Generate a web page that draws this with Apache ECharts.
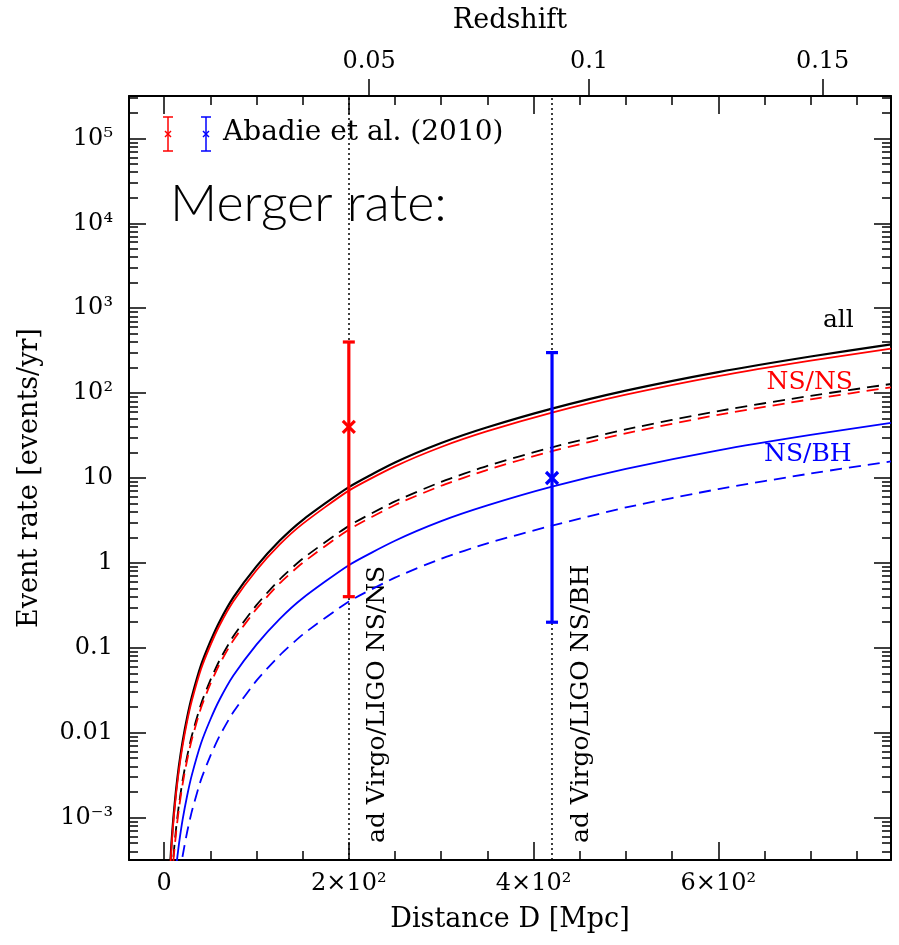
<!DOCTYPE html>
<html>
<head>
<meta charset="utf-8">
<script src="https://cdn.jsdelivr.net/npm/echarts@6/dist/echarts.min.js"></script>
<style>
  html, body { margin: 0; padding: 0; background: #fff; }
  #chart { width: 899px; height: 945px; }
</style>
</head>
<body>
<div id="chart"></div>
<script>
// Luminosity distance grid [Mpc]
const distance = [6, 8, 10, 13, 16, 20, 25, 30, 40, 50, 60, 75, 100, 125, 150, 200, 250, 300, 350, 420, 500, 600, 700, 787];

// Cumulative merger rates [events/yr] within distance D
const rateAll      = [2.1e-4, 5.0e-4, 9.75e-4, 2.14e-3, 4.0e-3, 7.8e-3, 0.0152, 0.0263, 0.0624, 0.118, 0.203, 0.392, 0.91, 1.82, 3.2, 7.8, 15.2, 25.8, 39.6, 65.7, 107, 177, 270, 375];
const rateNsNs     = [1.9e-4, 4.5e-4, 8.8e-4, 1.93e-3, 3.6e-3, 7.0e-3, 0.0137, 0.0237, 0.0562, 0.106, 0.183, 0.353, 0.82, 1.64, 2.88, 7.1, 13.7, 23.2, 35.6, 59, 96, 159, 242, 334];
const rateNsBh     = [2.5e-5, 6.0e-5, 1.17e-4, 2.57e-4, 4.8e-4, 9.4e-4, 1.82e-3, 3.16e-3, 7.5e-3, 0.0142, 0.0244, 0.047, 0.109, 0.218, 0.384, 0.94, 1.82, 3.1, 4.75, 7.9, 12.8, 21.2, 32.2, 44.5];
// Alternative model (dashed)
const rateAllAlt   = [7.4e-5, 1.75e-4, 3.4e-4, 7.5e-4, 1.4e-3, 2.73e-3, 5.3e-3, 9.2e-3, 0.0218, 0.0413, 0.071, 0.137, 0.318, 0.637, 1.12, 2.73, 5.3, 9.0, 13.9, 23.0, 37.4, 61.5, 93, 128];
const rateNsNsAlt  = [6.6e-5, 1.58e-4, 3.07e-4, 6.7e-4, 1.26e-3, 2.46e-3, 4.8e-3, 8.3e-3, 0.0197, 0.0372, 0.064, 0.123, 0.287, 0.573, 1.0, 2.46, 4.8, 8.1, 12.5, 20.7, 33.6, 55.5, 84.5, 117];
const rateNsBhAlt  = [9.5e-6, 2.25e-5, 4.4e-5, 9.6e-5, 1.8e-4, 3.5e-4, 6.8e-4, 1.18e-3, 2.8e-3, 5.3e-3, 9.1e-3, 0.0175, 0.041, 0.081, 0.143, 0.35, 0.67, 1.12, 1.7, 2.75, 4.5, 7.4, 11.3, 15.7];

// Abadie et al. (2010) realistic rates with plausible range, at the detector horizons
const abadieDist = [200, 420];
const abadieLow  = [0.4, 0.2];
const abadieMid  = [40, 10];
const abadieHigh = [400, 300];
const horizonLabels = ['ad Virgo/LIGO NS/NS', 'ad Virgo/LIGO NS/BH'];

// Axis ticks
const xTickValues = [0, 200, 400, 600];
const xTickLabels = ['0', '2×10²', '4×10²', '6×10²'];
const xMinorValues = [50, 100, 150, 250, 300, 350, 450, 500, 550, 650, 700, 750];
const yTickValues = [1e-3, 1e-2, 1e-1, 1, 10, 1e2, 1e3, 1e4, 1e5];
const yTickLabels = ['10⁻³', '0.01', '0.1', '1', '10', '10²', '10³', '10⁴', '10⁵'];
const redshiftLabels = ['0.05', '0.1', '0.15'];
const redshiftDist = [222, 460, 713];

const SERIF = 'DejaVu Serif';
const X_MIN = -38, X_MAX = 787;
const Y_MIN = Math.pow(10, -3.5), Y_MAX = Math.pow(10, 5.5);

const yMinorValues = [];
for (let e = -4; e <= 5; e++) {
  for (let k = 2; k <= 9; k++) {
    const v = k * Math.pow(10, e);
    if (v > Y_MIN && v < Y_MAX) yMinorValues.push(v);
  }
}

const pairs = (ys) => distance.map((d, i) => [d, ys[i]]);
const frame = { show: true, onZero: false, lineStyle: { color: '#000', width: 2 } };
const noLine = { show: false, onZero: false };

function xAxisDef(position, ticks, len, extra) {
  return Object.assign({
    type: 'value', position: position, min: X_MIN, max: X_MAX,
    axisLine: frame,
    axisTick: { show: true, inside: true, length: len, customValues: ticks, lineStyle: { color: '#000', width: 1.5 } },
    axisLabel: { show: false },
    splitLine: { show: false }, minorTick: { show: false }
  }, extra || {});
}
function yAxisDef(position, ticks, len, extra) {
  return Object.assign({
    type: 'log', logBase: 10, position: position, min: Y_MIN, max: Y_MAX,
    axisLine: frame,
    axisTick: { show: true, inside: true, length: len, customValues: ticks, lineStyle: { color: '#000', width: 1.5 } },
    axisLabel: { show: false },
    splitLine: { show: false }, minorTick: { show: false }
  }, extra || {});
}

const lineSeries = (name, ys, color, dashed, width) => ({
  name: name, type: 'line', data: pairs(ys), showSymbol: false, symbol: 'none',
  xAxisIndex: 0, yAxisIndex: 0, clip: true, smooth: 0.2, z: 3,
  lineStyle: { color: color, width: width, type: dashed ? [12, 7] : 'solid' }
});

function renderErrorBar(params, api) {
  const x = api.value(0);
  const pLo = api.coord([x, api.value(1)]);
  const pMid = api.coord([x, api.value(2)]);
  const pHi = api.coord([x, api.value(3)]);
  const color = params.dataIndex === 0 ? '#ff0000' : '#0000ff';
  const st = { stroke: color, lineWidth: 3.2, lineCap: 'butt' };
  const c = 6, m = 6;
  return {
    type: 'group',
    children: [
      { type: 'line', shape: { x1: pLo[0], y1: pLo[1], x2: pHi[0], y2: pHi[1] }, style: st },
      { type: 'line', shape: { x1: pLo[0] - c, y1: pLo[1], x2: pLo[0] + c, y2: pLo[1] }, style: st },
      { type: 'line', shape: { x1: pHi[0] - c, y1: pHi[1], x2: pHi[0] + c, y2: pHi[1] }, style: st },
      { type: 'line', shape: { x1: pMid[0] - m, y1: pMid[1] - m, x2: pMid[0] + m, y2: pMid[1] + m }, style: st },
      { type: 'line', shape: { x1: pMid[0] - m, y1: pMid[1] + m, x2: pMid[0] + m, y2: pMid[1] - m }, style: st }
    ]
  };
}

const chart = echarts.init(document.getElementById('chart'), null, { renderer: 'canvas' });

const option = {
  animation: false,
  backgroundColor: '#fff',
  grid: { left: 129, top: 96, width: 762, height: 764, containLabel: false },
  xAxis: [
    xAxisDef('bottom', xTickValues, 18, {
      name: 'Distance D [Mpc]', nameLocation: 'middle', nameGap: 46,
      nameTextStyle: { fontFamily: SERIF, fontSize: 27, color: '#000' },
      axisLabel: {
        show: true, customValues: xTickValues, margin: 12,
        fontFamily: SERIF, fontSize: 24, color: '#000',
        formatter: (v) => xTickLabels[xTickValues.findIndex(t => Math.abs(t - v) < 1e-6)]
      }
    }),
    xAxisDef('bottom', xMinorValues, 9, { axisLine: noLine }),
    xAxisDef('top', xTickValues, 18),
    xAxisDef('top', xMinorValues, 9, { axisLine: noLine }),
    xAxisDef('top', redshiftDist, 17, {
      axisLine: noLine,
      axisTick: { show: true, inside: false, length: 17, customValues: redshiftDist, lineStyle: { color: '#000', width: 1.5 } },
      name: 'Redshift', nameLocation: 'middle', nameGap: 62,
      nameTextStyle: { fontFamily: SERIF, fontSize: 27, color: '#000' },
      axisLabel: {
        show: true, customValues: redshiftDist, margin: 22,
        fontFamily: SERIF, fontSize: 24, color: '#000',
        formatter: (v) => redshiftLabels[redshiftDist.findIndex(t => Math.abs(t - v) < 1e-6)]
      }
    })
  ],
  yAxis: [
    yAxisDef('left', yTickValues, 17, {
      name: 'Event rate [events/yr]', nameLocation: 'middle', nameGap: 86, nameRotate: 90,
      nameTextStyle: { fontFamily: SERIF, fontSize: 27, color: '#000' },
      axisLabel: {
        show: true, customValues: yTickValues, margin: 16,
        fontFamily: SERIF, fontSize: 24, color: '#000',
        formatter: (v) => yTickLabels[Math.round(Math.log10(v)) + 3]
      }
    }),
    yAxisDef('left', yMinorValues, 9, { axisLine: noLine }),
    yAxisDef('right', yTickValues, 17),
    yAxisDef('right', yMinorValues, 9, { axisLine: noLine })
  ],
  series: [
    Object.assign(lineSeries('all', rateAll, '#000000', false, 2.2), {
      markLine: {
        silent: true, symbol: ['none', 'none'], label: { show: false },
        lineStyle: { color: '#000', width: 1.5, type: [2, 3] },
        data: abadieDist.map(d => ({ xAxis: d }))
      }
    }),
    lineSeries('NS/NS', rateNsNs, '#ff0000', false, 1.8),
    lineSeries('all (alt)', rateAllAlt, '#000000', true, 1.8),
    lineSeries('NS/NS (alt)', rateNsNsAlt, '#ff0000', true, 1.8),
    lineSeries('NS/BH', rateNsBh, '#0000ff', false, 1.8),
    lineSeries('NS/BH (alt)', rateNsBhAlt, '#0000ff', true, 1.8),
    {
      name: 'Abadie et al. (2010)', type: 'custom', xAxisIndex: 0, yAxisIndex: 0, z: 5,
      renderItem: renderErrorBar,
      encode: { x: 0, y: [1, 2, 3] },
      data: abadieDist.map((d, i) => [d, abadieLow[i], abadieMid[i], abadieHigh[i]])
    }
  ]
};
chart.setOption(option);

// Annotations placed from data coordinates
const toPx = (d, v) => chart.convertToPixel({ xAxisIndex: 0, yAxisIndex: 0 }, [d, v]);
const gridBottom = toPx(0, Y_MIN)[1];

function legendIcon(x, y, color) {
  const st = { stroke: color, lineWidth: 1.5 };
  const h = 17, c = 5, m = 3;
  return [
    { type: 'line', shape: { x1: x, y1: y - h, x2: x, y2: y + h }, style: st },
    { type: 'line', shape: { x1: x - c, y1: y - h, x2: x + c, y2: y - h }, style: st },
    { type: 'line', shape: { x1: x - c, y1: y + h, x2: x + c, y2: y + h }, style: st },
    { type: 'line', shape: { x1: x - m, y1: y - m, x2: x + m, y2: y + m }, style: st },
    { type: 'line', shape: { x1: x - m, y1: y + m, x2: x + m, y2: y - m }, style: st }
  ];
}

const curveLabels = [
  { text: 'all', d: 730, v: 726, color: '#000' },
  { text: 'NS/NS', d: 699, v: 135, color: '#ff0000' },
  { text: 'NS/BH', d: 697, v: 18.7, color: '#0000ff' }
];

const graphic = [];
legendIcon(168, 134, '#ff0000').forEach(g => graphic.push(g));
legendIcon(206, 134, '#0000ff').forEach(g => graphic.push(g));
graphic.push({
  type: 'text', x: 223, y: 133,
  style: { text: 'Abadie et al. (2010)', font: '28px "DejaVu Serif"', fill: '#000', align: 'left', verticalAlign: 'middle' }
});
graphic.push({
  type: 'text', x: 170, y: 204,
  style: { text: 'Merger rate:', font: '300 52px Lato', fill: '#000', align: 'left', verticalAlign: 'middle' }
});
curveLabels.forEach(l => {
  const p = toPx(l.d, l.v);
  graphic.push({
    type: 'text', x: p[0], y: p[1],
    style: { text: l.text, font: '25px "DejaVu Serif"', fill: l.color, align: 'center', verticalAlign: 'middle' }
  });
});
abadieDist.forEach((d, i) => {
  const p = toPx(d, 1);
  graphic.push({
    type: 'text', x: p[0] + 29, y: gridBottom - 17, rotation: Math.PI / 2,
    style: { text: horizonLabels[i], font: '25px "DejaVu Serif"', fill: '#000', align: 'left', verticalAlign: 'middle' }
  });
});
chart.setOption({ graphic: graphic });
</script>
</body>
</html>
